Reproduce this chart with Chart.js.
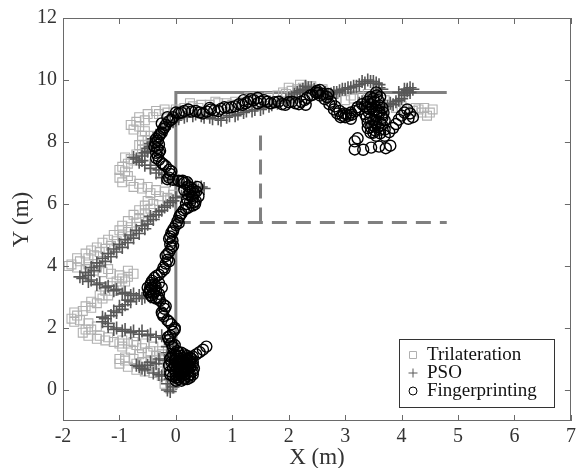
<!DOCTYPE html>
<html lang="en">
<head>
<meta charset="UTF-8">
<title>Trajetoria</title>
<script src="https://cdn.jsdelivr.net/npm/chart.js"></script>
<style>
    body { margin: 0; background: #fff; }
    #caixa { width: 579px; height: 468px; }
</style>
</head>
<body>
<div id="caixa"><canvas id="grafico" width="579" height="468"></canvas></div>
<script>
// caminho real (linhas cinza)
var caminho = [[0, 0], [0, 9.6], [4.8, 9.6]];
var tracoH = [[0, 5.4], [4.8, 5.4]];
var tracoV = [[1.5, 5.4], [1.5, 8.5]];

var xTicks = [-2, -1, 0, 1, 2, 3, 4, 5, 6, 7];
var yTicks = [0, 2, 4, 6, 8, 10, 12];

var nomes = ['Trilateration', 'PSO', 'Fingerprinting'];

var trilateracao = [
    [-0.1,0.05],[-0.2,0.2],[-0.1,0.3],[-0.25,0.45],[-0.4,0.55],[-0.55,0.6],[-0.7,0.65],[-0.85,0.75],[-1.0,0.85],
    [-0.9,0.95],[-0.75,1.0],[-0.6,0.9],[-0.45,0.95],[-0.35,1.1],[-0.5,1.2],[-0.65,1.15],[-0.8,1.3],[-0.95,1.4],
    [-0.6,1.35],[-0.4,1.4],[-0.3,1.25],[-0.2,1.0],[-0.15,0.8],[-0.3,0.7],
    [-0.55,1.5],[-0.75,1.55],[-0.95,1.6],[-1.1,1.55],[-1.25,1.6],[-1.4,1.65],[-1.55,1.75],[-1.65,1.85],[-1.5,1.95],
    [-1.4,2.05],[-1.55,2.15],[-1.7,2.25],[-1.85,2.3],[-1.75,2.4],[-1.65,2.55],[-1.5,2.65],[-1.4,2.8],[-1.3,2.95],
    [-1.2,3.05],[-1.1,3.2],[-1.0,3.35],[-0.9,3.5],[-0.85,3.65],[-1.0,3.7],[-1.15,3.75],[-1.3,3.8],[-1.45,3.85],
    [-1.6,3.9],[-1.75,3.95],[-1.9,4.0],[-1.85,4.05],[-1.7,4.15],[-1.55,4.25],[-1.45,4.35],[-1.35,4.45],[-1.25,4.55],
    [-1.15,4.65],[-1.05,4.8],[-0.95,4.95],[-0.85,5.1],[-0.8,5.25],[-0.7,5.4],[-0.65,5.55],[-0.55,5.7],[-0.45,5.85],
    [-0.4,6.0],[-0.3,6.1],[-0.15,6.2],[-0.05,6.3],[-0.2,6.4],[-0.35,6.45],[-0.5,6.55],[-0.65,6.65],[-0.8,6.75],
    [-0.85,6.9],[-0.9,7.05],[-0.95,7.2],[-0.85,7.3],[-0.8,7.45],[-0.7,7.6],[-0.6,7.75],[-0.55,7.9],[-0.5,8.05],
    [-0.45,8.2],[-0.55,8.35],[-0.65,8.5],[-0.7,8.65],[-0.55,8.7],[-0.4,8.8],[-0.3,8.9],[-0.15,8.95],[0.0,9.05],
    [0.15,9.1],[0.3,9.15],[0.45,9.2],[0.6,9.2],[0.75,9.25],[0.9,9.25],[1.05,9.3],[1.2,9.3],[1.35,9.35],[1.5,9.4],
    [1.65,9.45],[1.8,9.5],[1.95,9.55],[2.05,9.65],[2.15,9.7],[2.25,9.75],[2.35,9.7],[2.45,9.65],[2.55,9.6],
    [2.65,9.55],[2.75,9.45],[2.85,9.4],[3.0,9.35],[3.15,9.4],[3.3,9.45],[3.45,9.4],[3.6,9.3],[3.75,9.2],[3.9,9.1],
    [4.05,9.05],[4.2,9.0],[4.35,8.95],[4.5,8.95],[4.4,9.1],[4.25,9.1],
    [-0.05,0.2],[-0.3,0.6],[-0.5,0.75],[-0.7,0.85],[-0.9,1.05],[-1.0,1.0],[-0.45,1.25],[-0.25,1.15],[-0.7,1.45],
    [-0.85,1.5],[-1.0,1.5],[-1.2,1.7],[-1.35,1.75],[-1.6,1.95],[-1.8,2.2],[-1.8,2.5],[-1.6,2.7],[-1.5,2.85],
    [-1.35,3.05],[-1.25,3.2],[-1.15,3.35],[-1.05,3.5],[-0.95,3.6],[-0.75,3.75],[-0.85,3.85],[-1.2,3.9],[-1.4,3.95],
    [-1.55,4.05],[-1.75,4.25],[-1.6,4.4],[-1.5,4.5],[-1.4,4.6],[-1.3,4.75],[-1.2,4.85],[-1.1,5.0],[-1.0,5.15],
    [-0.95,5.3],[-0.85,5.45],[-0.75,5.65],[-0.65,5.8],[-0.55,5.95],[-0.5,6.1],[-0.3,6.25],[-0.1,6.15],[-0.45,6.35],
    [-0.6,6.5],[-0.75,6.55],[-0.95,6.7],[-1.0,6.85],[-1.0,7.1],[-0.9,7.5],[-0.75,7.4],[-0.65,7.9],[-0.6,8.05],
    [-0.6,8.2],[-0.75,8.4],[-0.8,8.55],[-0.65,8.8],[-0.5,8.9],[-0.35,9.0],[-0.2,9.05],[0.1,9.0],[0.25,9.25],
    [0.4,9.1],[0.7,9.3],[1.0,9.2],[1.3,9.45],[1.6,9.35],[1.9,9.6],[2.0,9.75],[2.2,9.85],[2.4,9.8],[2.6,9.7],
    [2.8,9.55],[3.1,9.5],[3.4,9.55],[3.7,9.35],[4.0,9.15],[4.3,9.05],[4.55,9.05],[4.45,8.85],[4.15,8.9]
];

var pso = [
    [-0.1,-0.05],[-0.05,0.1],[-0.15,0.2],[-0.1,0.35],[-0.25,0.45],[-0.4,0.55],[-0.55,0.65],[-0.65,0.75],[-0.5,0.8],
    [-0.35,0.85],[-0.2,0.95],[-0.1,1.1],[-0.05,1.25],[-0.15,1.4],[-0.1,1.55],[-0.2,1.65],[-0.35,1.7],[-0.5,1.75],
    [-0.65,1.8],[-0.8,1.85],[-0.95,1.9],[-1.1,1.95],[-1.2,2.05],[-1.3,2.2],[-1.25,2.3],[-1.15,2.4],[-1.05,2.5],
    [-0.95,2.6],[-0.9,2.75],[-0.8,2.85],[-0.7,2.95],[-0.55,3.0],[-0.65,3.05],[-0.8,3.05],[-0.95,3.1],[-1.1,3.2],
    [-1.25,3.3],[-1.4,3.4],[-1.55,3.5],[-1.65,3.6],[-1.55,3.7],[-1.45,3.85],[-1.35,4.0],[-1.25,4.15],[-1.15,4.3],
    [-1.05,4.45],[-0.95,4.6],[-0.85,4.75],[-0.75,4.9],[-0.65,5.05],[-0.55,5.2],[-0.5,5.35],[-0.4,5.5],[-0.35,5.65],
    [-0.25,5.8],[-0.15,5.95],[-0.05,6.1],[0.1,6.25],[0.25,6.35],[0.4,6.45],[0.5,6.5],[0.35,6.55],[0.2,6.6],
    [0.05,6.65],[-0.1,6.75],[-0.25,6.85],[-0.35,7.0],[-0.45,7.15],[-0.55,7.25],[-0.65,7.35],[-0.7,7.45],[-0.6,7.55],
    [-0.5,7.7],[-0.45,7.85],[-0.4,8.0],[-0.35,8.15],[-0.3,8.3],[-0.2,8.45],[-0.1,8.6],[0.0,8.7],[0.15,8.8],
    [0.3,8.85],[0.45,8.85],[0.6,8.8],[0.75,8.75],[0.9,8.8],[1.05,8.85],[1.2,8.95],[1.35,9.0],[1.5,9.05],[1.65,9.15],
    [1.8,9.25],[1.95,9.35],[2.05,9.45],[2.15,9.6],[2.25,9.7],[2.35,9.75],[2.45,9.7],[2.55,9.65],[2.65,9.6],
    [2.75,9.55],[2.85,9.6],[2.95,9.7],[3.05,9.75],[3.15,9.8],[3.25,9.85],[3.35,9.9],[3.45,9.95],[3.55,9.9],
    [3.6,9.75],[3.55,9.6],[3.45,9.45],[3.35,9.3],[3.25,9.25],[3.4,9.2],[3.55,9.15],[3.7,9.2],[3.8,9.25],[3.9,9.3],
    [4.0,9.4],[4.05,9.55],[4.1,9.65],[4.15,9.75],[4.05,9.7],[3.95,9.6],
    [-0.15,0.0],[-0.05,0.3],[-0.3,0.5],[-0.6,0.7],[-0.7,0.8],[-0.45,0.9],[-0.3,1.0],[-0.15,1.2],[-0.05,1.5],
    [-0.25,1.75],[-0.45,1.8],[-0.6,1.9],[-0.75,1.9],[-0.9,1.95],[-1.05,2.0],[-1.2,2.15],[-1.3,2.35],[-1.1,2.55],
    [-1.0,2.7],[-0.85,2.9],[-0.6,2.95],[-0.45,3.0],[-0.75,3.1],[-0.9,3.15],[-1.05,3.25],[-1.2,3.35],[-1.35,3.45],
    [-1.5,3.55],[-1.7,3.65],[-1.6,3.8],[-1.5,3.95],[-1.4,4.1],[-1.3,4.25],[-1.2,4.4],[-1.1,4.55],[-1.0,4.7],
    [-0.9,4.85],[-0.8,5.0],[-0.7,5.15],[-0.6,5.3],[-0.5,5.45],[-0.45,5.6],[-0.3,5.75],[-0.2,5.9],[-0.1,6.05],
    [0.0,6.2],[0.2,6.3],[0.35,6.4],[0.45,6.55],[0.25,6.65],[0.1,6.7],[-0.05,6.8],[-0.2,6.95],[-0.3,7.1],
    [-0.45,7.25],[-0.6,7.4],[-0.75,7.5],[-0.55,7.65],[-0.5,7.8],[-0.45,7.95],[-0.4,8.1],[-0.3,8.2],[-0.25,8.4],
    [-0.15,8.5],[-0.05,8.65],[0.05,8.75],[0.2,8.85],[0.35,8.9],[0.5,8.8],[0.65,8.75],[0.8,8.7],[0.95,8.85],
    [1.1,8.9],[1.25,9.0],[1.4,9.05],[1.55,9.1],[1.7,9.2],[1.85,9.3],[2.0,9.4],[2.1,9.55],[2.2,9.65],[2.3,9.8],
    [2.4,9.75],[2.5,9.6],[2.6,9.55],[2.7,9.5],[2.8,9.6],[2.9,9.65],[3.0,9.7],[3.1,9.75],[3.2,9.8],[3.3,9.95],
    [3.4,10.0],[3.5,9.95],[3.6,9.85],[3.65,9.7],[3.5,9.55],[3.4,9.4],[3.3,9.3],[3.45,9.25],[3.6,9.1],[3.75,9.15],
    [3.85,9.2],[3.95,9.35],[4.05,9.5],[4.1,9.7],[4.15,9.6],[4.2,9.7]
];

var fingerprinting = [
    [0.05,0.4],[0.1,0.45],[0.15,0.5],[0.2,0.55],[0.05,0.55],[0.0,0.6],[0.1,0.62],[0.2,0.65],[0.25,0.72],[0.15,0.72],
    [0.05,0.75],[-0.02,0.8],[0.1,0.82],[0.2,0.85],[0.25,0.9],[0.15,0.92],[0.05,0.95],[0.0,1.0],[0.12,1.02],[0.2,1.0],
    [0.08,1.1],[0.0,1.15],[-0.05,0.7],[0.05,0.5],[0.18,0.78],[0.1,0.68],[0.12,0.88],[0.03,0.88],[0.22,0.6],[0.08,0.58],
    [-0.05,0.45],[0.0,0.4],[0.15,0.4],[0.25,0.5],[0.3,0.6],[0.3,0.8],[0.28,1.0],[0.2,1.1],[0.1,1.2],[-0.08,1.05],
    [-0.08,0.9],[-0.1,0.6],[0.02,0.7],[0.18,0.95],[0.14,0.6],[0.06,1.0],[0.22,0.45],[0.26,0.85],[0.1,0.3],[0.2,0.35],
    [0.0,0.3],[0.05,0.35],[0.15,0.35],[0.25,0.4],[0.3,0.5],[0.32,0.7],[0.3,0.9],[0.25,1.05],[0.15,1.15],[0.05,1.2],
    [-0.05,1.15],[-0.1,1.0],[-0.12,0.8],[-0.1,0.5],[0.0,0.5],[0.1,0.55],[0.17,0.67],[0.07,0.67],[0.13,0.77],
    [0.03,0.82],[0.22,0.8],[0.16,0.85],[0.08,0.92],[0.18,1.05],[0.02,1.08],[-0.02,0.95],[0.25,0.95],[0.12,0.95],
    [0.3,1.08],[0.36,1.15],[0.42,1.22],[0.48,1.3],[0.54,1.4],
    [0.02,1.25],[-0.05,1.38],[-0.08,1.5],[-0.12,1.62],[-0.1,1.75],[-0.05,1.88],[-0.02,2.0],[-0.08,2.12],[-0.15,2.25],
    [-0.22,2.38],[-0.25,2.5],[-0.2,2.62],[-0.22,2.75],[-0.28,2.88],[-0.32,3.0],[-0.4,3.1],[-0.45,3.2],[-0.42,3.3],
    [-0.38,3.4],[-0.42,3.52],[-0.38,3.62],[-0.3,3.72],[-0.25,3.82],[-0.22,3.95],[-0.18,4.08],[-0.15,4.2],[-0.18,4.32],
    [-0.12,4.45],[-0.08,4.58],[-0.1,4.7],[-0.06,4.82],[-0.1,4.95],[-0.08,5.08],[-0.04,5.2],[0.0,5.32],[0.03,5.45],
    [0.06,5.58],[0.1,5.7],[0.14,5.8],[0.22,5.88],[0.3,5.95],[0.25,6.05],[0.2,6.15],[0.28,6.25],[0.32,6.35],[0.3,6.47],
    [0.22,6.57],[0.15,6.68],[0.05,6.75],[-0.05,6.78],[-0.12,6.85],[-0.1,6.97],[-0.12,7.1],[-0.18,7.22],[-0.25,7.32],
    [-0.3,7.42],[-0.32,7.55],[-0.3,7.67],[-0.33,7.8],[-0.3,7.92],[-0.32,8.05],[-0.3,8.18],[-0.25,8.3],[-0.22,8.42],
    [-0.18,8.55],[-0.12,8.67],[-0.05,8.8],[0.05,8.92],[0.15,9.0],[0.28,8.98],[0.42,8.95],[0.55,8.98],[0.68,9.02],
    [0.8,9.07],[0.92,9.1],[1.05,9.15],[1.18,9.2],[1.28,9.3],[1.38,9.35],[1.5,9.3],[1.62,9.3],[1.75,9.28],[1.88,9.22],
    [2.0,9.28],[2.12,9.25],[2.22,9.3],[2.32,9.42],[2.42,9.52],[2.52,9.58],[2.6,9.55],[2.68,9.45],[2.75,9.3],
    [2.82,9.15],[2.9,9.0],[2.98,8.92],[3.06,8.85],[3.12,8.88],[3.18,9.0],[3.22,9.12],[3.3,9.22],[3.4,9.3],[3.5,9.4],
    [3.56,9.5],[3.52,9.3],[3.48,9.1],[3.42,8.95],[3.38,8.8],[3.4,8.62],[3.45,8.48],[3.52,8.38],[3.58,8.48],
    [3.62,8.62],[3.66,8.78],[3.6,8.92],[3.55,9.05],[3.68,8.95],[3.5,8.7],[3.55,8.85],[3.62,8.28],[3.7,8.2],
    [3.78,8.32],[3.85,8.45],[3.9,8.58],[3.95,8.72],[4.0,8.85],[4.05,8.95],[4.1,9.05],[4.15,8.92],[4.2,8.8],
    [4.12,8.75],[3.8,7.88],[3.72,7.8],[3.6,7.85],[3.46,7.82],[3.32,7.75],[3.17,7.76],[3.17,8.02],[3.22,8.12],
    [-0.02,1.45],[-0.14,1.7],[-0.02,1.95],[-0.12,2.2],[-0.24,2.45],[-0.18,2.7],[-0.3,2.95],[-0.44,3.05],[-0.46,3.25],
    [-0.36,3.35],[-0.44,3.45],[-0.34,3.68],[-0.2,3.9],[-0.12,4.15],[-0.15,4.38],[-0.05,4.65],[-0.12,4.88],
    [-0.05,5.12],[0.05,5.38],[0.08,5.65],[0.18,5.85],[0.34,6.0],[0.3,6.2],[0.36,6.4],[0.26,6.52],[0.1,6.72],
    [-0.15,6.8],[-0.08,7.05],[-0.22,7.28],[-0.35,7.48],[-0.28,7.72],[-0.36,7.98],[-0.28,8.25],[-0.2,8.48],
    [-0.08,8.72],[0.1,8.95],[0.22,9.05],[0.35,9.0],[0.48,8.92],[0.62,9.05],[0.75,9.0],[0.86,9.12],[0.98,9.12],
    [1.12,9.22],[1.24,9.25],[1.33,9.38],[1.45,9.25],[1.56,9.35],[1.68,9.25],[1.82,9.3],[1.94,9.2],[2.06,9.3],
    [2.18,9.22],[2.28,9.35],[2.38,9.5],[2.48,9.6],[2.56,9.5],[2.64,9.38],[2.72,9.22],[2.8,9.05],[2.86,8.92],
    [2.95,8.85],[3.02,8.9],[3.1,8.95],[3.25,9.05],[3.35,9.15],[3.45,9.22],[3.58,9.35],[3.6,9.18],[3.44,9.05],
    [3.35,8.9],[3.48,8.55],[3.55,8.6],[3.62,8.4],[3.5,8.3],[3.65,8.85],[3.7,8.7],[3.45,8.75],[3.56,8.95],
    [-0.48,3.15],[-0.5,3.3],[-0.35,3.2],[-0.3,3.1],[-0.38,3.25],[-0.45,3.38],[-0.3,3.45],[-0.25,3.3],[-0.42,3.0],
    [-0.35,2.95],[0.18,6.0],[0.35,6.1],[0.4,6.25],[0.22,6.3],[0.38,6.55],[0.15,6.45],[0.25,6.4],[0.32,6.05],
    [0.12,6.75],[0.2,6.7],[-0.35,7.65],[-0.38,7.85],[-0.35,8.1],[-0.25,8.6],[-0.15,8.8],[0.0,8.95],[0.6,9.1],
    [1.2,9.35],[1.45,9.42],[2.3,9.2],[2.5,9.65],[2.55,9.68],[2.7,9.55],[3.45,9.45],[3.55,9.6],[3.62,9.45],
    [3.38,9.1],[3.6,9.0],[3.66,9.1],[3.52,8.5],[3.4,8.45],[3.65,8.55],[3.7,8.4],[3.55,8.2],[3.45,8.3],[3.0,8.8],
    [3.1,8.75],[2.92,8.8]
];

function pontos(lista) {
    return lista.map(function (p) { return { x: p[0], y: p[1] }; });
}

var fonte = '"Liberation Serif", "Times New Roman", serif';
var corSquare = '#b0b0b0';
var corPso = '#585858';

// moldura com ticks para dentro (estilo matlab)
var moldura = {
    id: 'moldura',
    afterDatasetsDraw: function (chart) {
        var ctx = chart.ctx, a = chart.chartArea;
        var sx = chart.scales.x, sy = chart.scales.y;
        ctx.save();
        ctx.strokeStyle = '#6a6a6a';
        ctx.lineWidth = 1;
        ctx.strokeRect(Math.round(a.left) + 0.5, Math.round(a.top) + 0.5,
            Math.round(a.right - a.left) - 1, Math.round(a.bottom - a.top) - 1);
        ctx.beginPath();
        xTicks.forEach(function (v) {
            var px = Math.round(sx.getPixelForValue(v)) + 0.5;
            ctx.moveTo(px, a.bottom); ctx.lineTo(px, a.bottom - 6);
            ctx.moveTo(px, a.top); ctx.lineTo(px, a.top + 6);
        });
        yTicks.forEach(function (v) {
            var py = Math.round(sy.getPixelForValue(v)) + 0.5;
            ctx.moveTo(a.left, py); ctx.lineTo(a.left + 6, py);
            ctx.moveTo(a.right, py); ctx.lineTo(a.right - 6, py);
        });
        ctx.stroke();
        ctx.restore();
    }
};

var legenda = {
    id: 'legenda',
    afterDraw: function (chart) {
        var ctx = chart.ctx, a = chart.chartArea;
        var w = 155, h = 68;
        var x0 = Math.round(a.right - 17 - w), y0 = Math.round(a.bottom - 14 - h);
        ctx.save();
        ctx.fillStyle = '#fff';
        ctx.fillRect(x0, y0, w, h);
        ctx.strokeStyle = '#333';
        ctx.lineWidth = 1;
        ctx.strokeRect(x0 + 0.5, y0 + 0.5, w, h);
        nomes.forEach(function (nome, i) {
            var cy = y0 + 16 + i * 18;
            var cx = x0 + 14;
            ctx.beginPath();
            if (i === 0) {
                ctx.strokeStyle = corSquare;
                ctx.rect(cx - 3.5, cy - 3.5, 7, 7);
            } else if (i === 1) {
                ctx.strokeStyle = corPso;
                ctx.moveTo(cx - 4.5, cy); ctx.lineTo(cx + 4.5, cy);
                ctx.moveTo(cx, cy - 4.5); ctx.lineTo(cx, cy + 4.5);
            } else {
                ctx.strokeStyle = '#000';
                ctx.arc(cx, cy, 4, 0, Math.PI * 2);
            }
            ctx.stroke();
            ctx.fillStyle = '#111';
            ctx.font = '19px ' + fonte;
            ctx.textBaseline = 'middle';
            ctx.fillText(nome, x0 + 28, cy);
        });
        ctx.restore();
    }
};

var canvas = document.getElementById('grafico');
var ctx = canvas.getContext('2d');

new Chart(ctx, {
    type: 'scatter',
    data: {
        datasets: [
            {
                label: 'Trilateration',
                data: pontos(trilateracao),
                pointStyle: 'rect',
                pointRadius: 6.3,
                borderColor: corSquare,
                backgroundColor: 'rgba(0,0,0,0)',
                borderWidth: 1.1,
                order: 2
            },
            {
                label: 'PSO',
                data: pontos(pso),
                pointStyle: 'cross',
                pointRadius: 6.5,
                borderColor: corPso,
                backgroundColor: corPso,
                borderWidth: 1.6,
                order: 1
            },
            {
                label: 'Fingerprinting',
                data: pontos(fingerprinting),
                pointStyle: 'circle',
                pointRadius: 5.5,
                borderColor: '#000',
                backgroundColor: 'rgba(0,0,0,0)',
                borderWidth: 1.4,
                order: 0
            },
            {
                type: 'line',
                data: pontos(caminho),
                showLine: true,
                pointRadius: 0,
                borderColor: '#808080',
                borderWidth: 3,
                fill: false,
                order: 3
            },
            {
                type: 'line',
                data: pontos(tracoH),
                showLine: true,
                pointRadius: 0,
                borderColor: '#808080',
                borderWidth: 3,
                borderDash: [15, 9],
                fill: false,
                order: 3
            },
            {
                type: 'line',
                data: pontos(tracoV),
                showLine: true,
                pointRadius: 0,
                borderColor: '#808080',
                borderWidth: 3,
                borderDash: [15, 9],
                fill: false,
                order: 3
            }
        ]
    },
    options: {
        responsive: false,
        animation: false,
        layout: { padding: { top: 18, right: 3, left: 0, bottom: 0 } },
        plugins: {
            legend: { display: false },
            tooltip: { enabled: false }
        },
        scales: {
            x: {
                type: 'linear',
                min: -2,
                max: 7,
                afterBuildTicks: function (s) { s.ticks = xTicks.map(function (v) { return { value: v }; }); },
                afterFit: function (s) { s.height = 47; s.paddingLeft = 0; s.paddingRight = 0; },
                grid: { display: false, drawTicks: false },
                border: { display: false },
                ticks: { color: '#333', padding: 4, maxRotation: 0, font: { family: fonte, size: 20 } },
                title: { display: true, text: 'X (m)', color: '#333', padding: { top: 0, bottom: -4 }, font: { family: fonte, size: 23 } }
            },
            y: {
                type: 'linear',
                min: -1,
                max: 12,
                afterBuildTicks: function (s) { s.ticks = yTicks.map(function (v) { return { value: v }; }); },
                afterFit: function (s) { s.width = 63; s.paddingTop = 0; s.paddingBottom = 0; },
                grid: { display: false, drawTicks: false },
                border: { display: false },
                ticks: { color: '#333', padding: 6, font: { family: fonte, size: 20 } },
                title: { display: true, text: 'Y (m)', color: '#333', padding: { top: 8, bottom: 0 }, font: { family: fonte, size: 23 } }
            }
        }
    },
    plugins: [moldura, legenda]
});
</script>
</body>
</html>
